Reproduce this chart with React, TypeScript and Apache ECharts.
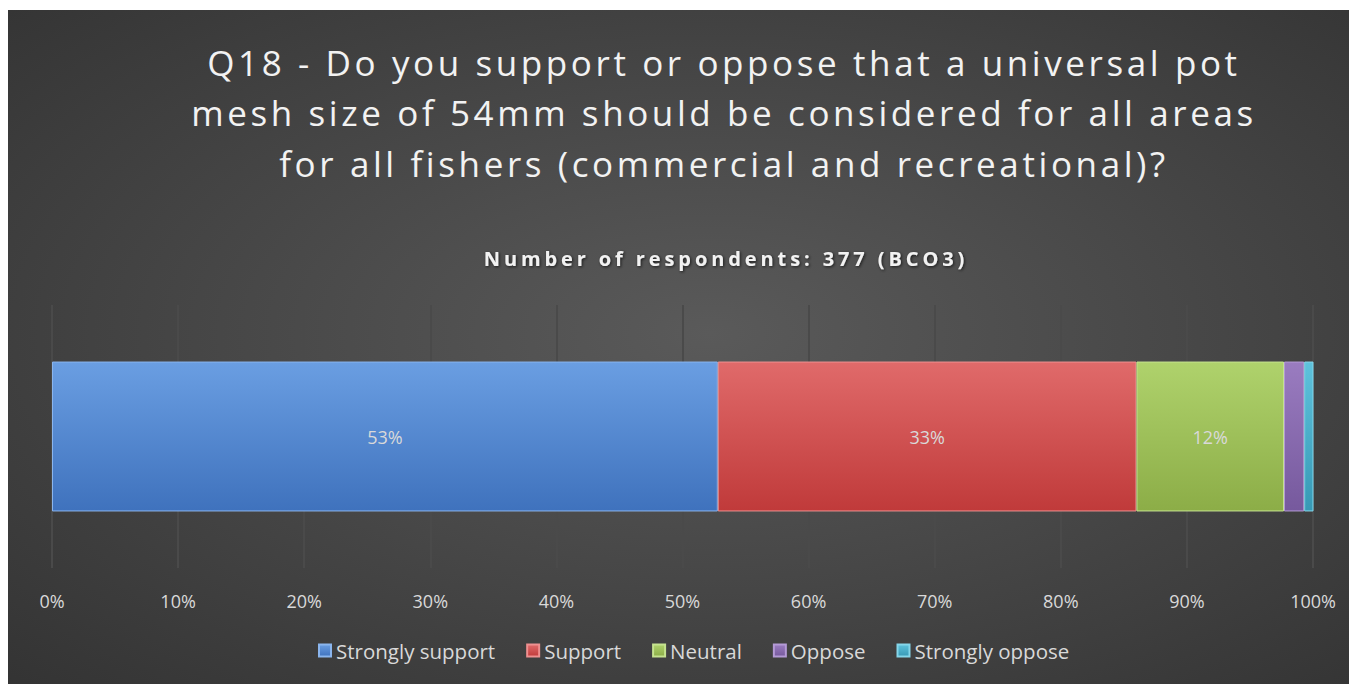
import React, { useEffect, useRef } from "react";
import * as echarts from "echarts";

const titleLines = [
  "Q18 - Do you support or oppose that a universal pot",
  "mesh size of 54mm should be considered for all areas",
  "for all fishers (commercial and recreational)?",
];
const subtitle = "Number of respondents: 377 (BCO3)";
const categories = ["BCO3"];
const seriesNames = ["Strongly support", "Support", "Neutral", "Oppose", "Strongly oppose"];
const seriesValues = [52.8, 33.2, 11.7, 1.6, 0.8];
const showLabel = [true, true, true, false, false];
const topColors = ["#6a9ee2", "#e06a6a", "#afd26c", "#9a7cc0", "#5ec2dc"];
const bottomColors = ["#3f72bd", "#c03a3a", "#8cad47", "#76599d", "#3799b5"];
const borderColors = ["#8ab5ee", "#ee9090", "#c6e38f", "#b49ad6", "#85d6ea"];
const xTicks = [0, 10, 20, 30, 40, 50, 60, 70, 80, 90, 100];

export default function App() {
  const ref = useRef<HTMLDivElement>(null);
  useEffect(() => {
    if (!ref.current) return;
    const chart = echarts.init(ref.current, undefined, { renderer: "svg" });
    const series = seriesNames.map((name, i) => ({
      name,
      type: "bar",
      stack: "total",
      barWidth: "57%",
      data: [seriesValues[i]],
      itemStyle: {
        color: {
          type: "linear",
          x: 0,
          y: 0,
          x2: 0,
          y2: 1,
          colorStops: [
            { offset: 0, color: topColors[i] },
            { offset: 1, color: bottomColors[i] },
          ],
        },
        borderColor: borderColors[i],
        borderWidth: 1,
      },
      label: {
        show: showLabel[i],
        position: "inside",
        color: "#d9d9d9",
        fontSize: 18,
        fontFamily: "Open Sans",
        formatter: (p: any) => Math.round(p.value) + "%",
      },
    }));
    chart.setOption({
      animation: false,
      backgroundColor: {
        type: "radial",
        x: 0.52,
        y: 0.48,
        r: 1.05,
        colorStops: [
          { offset: 0, color: "#5a5a5a" },
          { offset: 1, color: "#232323" },
        ],
      },
      graphic: [
        ...titleLines.map((t, i) => ({
          type: "text",
          silent: true,
          x: 716,
          y: 52 + i * 50.5,
          style: {
            text: t,
            fill: "#f2f2f2",
            font: "35px 'Open Sans'",
            textAlign: "center",
            textVerticalAlign: "middle",
          },
        })),
        {
          type: "text",
          silent: true,
          x: 718,
          y: 248,
          style: {
            text: subtitle,
            fill: "#f2f2f2",
            font: "bold 20px 'Open Sans'",
            textAlign: "center",
            textVerticalAlign: "middle",
            textShadowColor: "rgba(0,0,0,0.7)",
            textShadowBlur: 3,
            textShadowOffsetX: 1,
            textShadowOffsetY: 1,
          },
        },
      ],
      legend: {
        data: seriesNames,
        bottom: 18,
        left: 305,
        itemWidth: 12,
        itemHeight: 12,
        itemGap: 31,
        icon: "rect",
        textStyle: { color: "#d9d9d9", fontSize: 20.5, fontFamily: "Open Sans" },
      },
      grid: { left: 44, right: 44, top: 295, bottom: 116 },
      xAxis: {
        type: "value",
        min: 0,
        max: 100,
        interval: 10,
        axisLine: { show: false },
        axisTick: { show: false },
        splitLine: { show: true, lineStyle: { color: "#4a4a4a", width: 2 } },
        axisLabel: {
          color: "#d9d9d9",
          fontSize: 18,
          fontFamily: "Open Sans",
          margin: 24,
          formatter: (v: number) => (xTicks.includes(v) ? v + "%" : ""),
        },
      },
      yAxis: {
        type: "category",
        data: categories,
        show: false,
      },
      series,
    });
    const spacing = () => {
      const texts = ref.current?.querySelectorAll("text") || [];
      texts.forEach((el: any) => {
        const c = el.textContent || "";
        if (titleLines.includes(c)) el.style.letterSpacing = "3.6px";
        else if (c === subtitle) el.style.letterSpacing = "3.9px";
      });
    };
    spacing();
    chart.on("finished", spacing);
    return () => chart.dispose();
  }, []);
  return <div ref={ref} style={{ width: 1349, height: 674, marginTop: 2 }} />;
}
